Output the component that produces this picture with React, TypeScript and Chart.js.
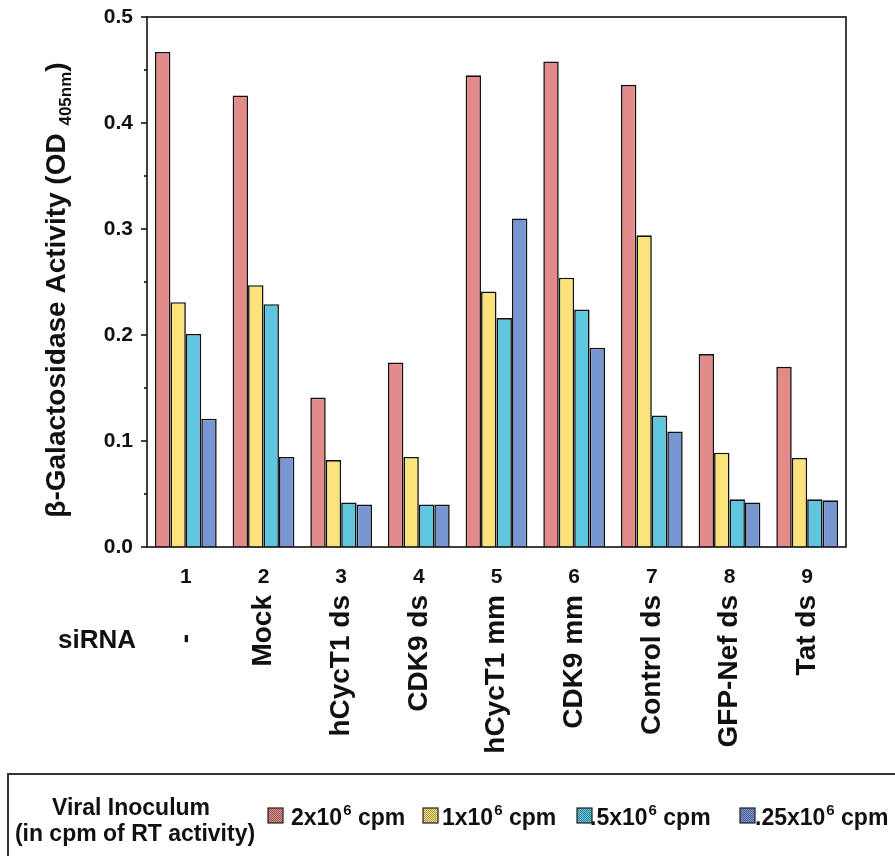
import React, { useEffect, useRef } from "react";
import { Chart, registerables } from "chart.js";

Chart.register(...registerables);

// ---- data ----
const laneNumbers = ["1", "2", "3", "4", "5", "6", "7", "8", "9"];
const sirnaNames = ["-     ", "Mock", "hCycT1 ds", "CDK9 ds", "hCycT1 mm", "CDK9 mm", "Control ds", "GFP-Nef ds", "Tat ds"];
const inoc2e6 = [0.467, 0.426, 0.141, 0.174, 0.445, 0.458, 0.436, 0.182, 0.170];
const inoc1e6 = [0.231, 0.247, 0.082, 0.085, 0.241, 0.254, 0.294, 0.089, 0.084];
const inoc05e6 = [0.201, 0.229, 0.042, 0.040, 0.216, 0.224, 0.124, 0.045, 0.045];
const inoc025e6 = [0.121, 0.085, 0.040, 0.040, 0.310, 0.188, 0.109, 0.042, 0.044];
const legendMantissa = ["2x10", "1x10", ".5x10", ".25x10"];
const legendExponent = "6";
const legendUnit = " cpm";
const yMin = 0;
const yMax = 0.5;
const yStep = 0.05;

const colors = ["#E38B8B", "#FBE27B", "#5EC6DE", "#7896D2"];
const FONT = "'Liberation Sans', Arial, Helvetica, sans-serif";

function makePattern(ctx: CanvasRenderingContext2D, color: string) {
  const c = document.createElement("canvas");
  c.width = 2;
  c.height = 2;
  const g = c.getContext("2d")!;
  g.fillStyle = color;
  g.fillRect(0, 0, 2, 2);
  g.fillStyle = "rgba(0,0,0,0.35)";
  g.fillRect(0, 0, 1, 1);
  g.fillRect(1, 1, 1, 1);
  return ctx.createPattern(c, "repeat")!;
}

const decorPlugin = {
  id: "decor",
  afterDraw(chart: any) {
    const ctx: CanvasRenderingContext2D = chart.ctx;
    const area = chart.chartArea;
    const y = chart.scales.y;
    ctx.save();
    // frame
    ctx.strokeStyle = "#111";
    ctx.lineWidth = 1.6;
    ctx.strokeRect(area.left, area.top, area.right - area.left, area.bottom - area.top);
    // y ticks (major outside, minor shorter)
    const n = Math.round((yMax - yMin) / yStep);
    for (let i = 0; i <= n; i++) {
      const v = yMin + i * yStep;
      const py = y.getPixelForValue(v);
      const len = i % 2 === 0 ? 6 : 3;
      ctx.beginPath();
      ctx.moveTo(area.left - len, py);
      ctx.lineTo(area.left, py);
      ctx.stroke();
    }
    // y title with subscript
    ctx.fillStyle = "#111";
    const mainTxt = "\u03b2-Galactosidase Activity (OD ";
    const subTxt = "405nm";
    const endTxt = ")";
    const mainFont = `bold 28px ${FONT}`;
    const subFont = `bold 17px ${FONT}`;
    ctx.font = mainFont;
    const w1 = ctx.measureText(mainTxt).width;
    const w3 = ctx.measureText(endTxt).width;
    ctx.font = subFont;
    const w2 = ctx.measureText(subTxt).width;
    const total = w1 + w2 + w3;
    ctx.translate(55, 290);
    ctx.rotate(-Math.PI / 2);
    ctx.textBaseline = "alphabetic";
    ctx.textAlign = "left";
    let x0 = -total / 2;
    ctx.font = mainFont;
    ctx.fillText(mainTxt, x0, 10);
    x0 += w1;
    ctx.font = subFont;
    ctx.fillText(subTxt, x0, 16);
    x0 += w2;
    ctx.font = mainFont;
    ctx.fillText(endTxt, x0, 10);
    ctx.restore();

    // siRNA label
    ctx.save();
    ctx.fillStyle = "#111";
    ctx.font = `bold 26px ${FONT}`;
    ctx.textAlign = "left";
    ctx.textBaseline = "alphabetic";
    ctx.fillText("siRNA", 58, 648);

    // legend box
    ctx.strokeStyle = "#333";
    ctx.lineWidth = 2;
    ctx.beginPath();
    ctx.moveTo(8, 860);
    ctx.lineTo(8, 774);
    ctx.lineTo(900, 774);
    ctx.stroke();

    ctx.font = `bold 23px ${FONT}`;
    ctx.textAlign = "center";
    ctx.fillText("Viral Inoculum", 131, 815);
    ctx.fillText("(in cpm of RT activity)", 135, 841);

    const sqX = [268, 423, 577, 740];
    const txtX = [291, 442, 590, 755];
    ctx.textAlign = "left";
    for (let i = 0; i < 4; i++) {
      ctx.fillStyle = makePattern(ctx, colors[i]);
      ctx.fillRect(sqX[i], 808, 15, 15);
      ctx.strokeStyle = "#222";
      ctx.lineWidth = 1.2;
      ctx.strokeRect(sqX[i], 808, 15, 15);
      ctx.fillStyle = "#111";
      let tx = txtX[i];
      ctx.font = `bold 23px ${FONT}`;
      ctx.fillText(legendMantissa[i], tx, 825);
      tx += ctx.measureText(legendMantissa[i]).width;
      ctx.font = `bold 15px ${FONT}`;
      ctx.fillText(legendExponent, tx + 1, 815);
      tx += ctx.measureText(legendExponent).width + 1;
      ctx.font = `bold 23px ${FONT}`;
      ctx.fillText(legendUnit, tx, 825);
    }
    ctx.restore();
  },
};

export default function App() {
  const ref = useRef<HTMLCanvasElement>(null);
  useEffect(() => {
    if (!ref.current) return;
    const datasets = [inoc2e6, inoc1e6, inoc05e6, inoc025e6].map((d, i) => ({
      label: legendMantissa[i] + legendExponent + legendUnit,
      data: d,
      backgroundColor: colors[i],
      borderColor: "#111",
      borderWidth: 1.6,
      categoryPercentage: 0.795,
      barPercentage: 1.0,
      xAxisID: "x",
    }));
    const chart = new Chart(ref.current, {
      type: "bar",
      data: { labels: laneNumbers, datasets },
      options: {
        responsive: false,
        animation: false,
        events: [],
        layout: { padding: { left: 87, right: 49, top: 17, bottom: 96 } },
        plugins: { legend: { display: false }, tooltip: { enabled: false }, title: { display: false } },
        scales: {
          x: {
            type: "category",
            position: "bottom",
            weight: 0,
            offset: true,
            grid: { display: false, drawTicks: false },
            border: { display: false },
            ticks: { color: "#111", font: { family: FONT, size: 21, weight: "bold" }, padding: 18, maxRotation: 0, minRotation: 0, autoSkip: false },
            afterFit: (s: any) => { s.height = 44; },
          },
          x2: {
            type: "category",
            position: "bottom",
            weight: 1,
            offset: true,
            labels: sirnaNames,
            grid: { display: false, drawTicks: false },
            border: { display: false },
            ticks: { color: "#111", font: { family: FONT, size: 28, weight: "bold" }, padding: 4, maxRotation: 90, minRotation: 90, autoSkip: false },
            afterFit: (s: any) => { s.height = 169; },
          },
          y: {
            min: yMin,
            max: yMax,
            grid: { display: false, drawTicks: false },
            border: { display: false },
            ticks: {
              stepSize: 0.1,
              color: "#111",
              font: { family: FONT, size: 21, weight: "bold" },
              padding: 14,
              callback: (v: any) => Number(v).toFixed(1),
            },
            afterFit: (s: any) => { s.width = 60; s.paddingTop = 0; s.paddingBottom = 0; },
          },
        },
      },
      plugins: [decorPlugin],
    });
    return () => chart.destroy();
  }, []);
  return (
    <div style={{ position: "absolute", left: 0, top: 0, width: 895, height: 856, background: "#fff" }}>
      <canvas ref={ref} width={895} height={856} style={{ width: 895, height: 856, display: "block" }} />
    </div>
  );
}
